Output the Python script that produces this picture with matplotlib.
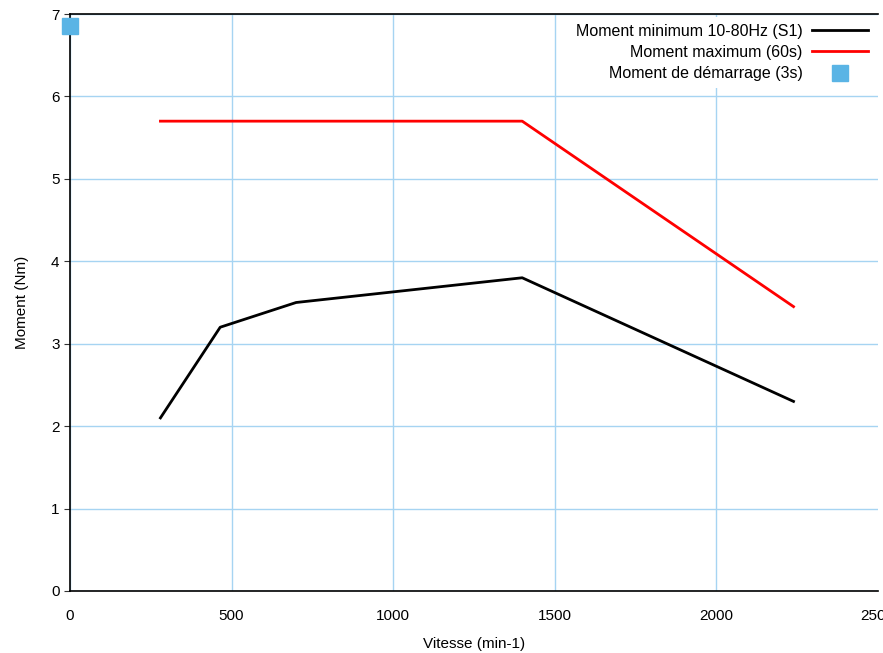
import matplotlib
matplotlib.use('Agg')
import matplotlib.pyplot as plt

# data
speed_min = [280, 465, 700, 1400, 2240]
torque_min = [2.1, 3.2, 3.5, 3.8, 2.3]
speed_max = [280, 1400, 2240]
torque_max = [5.7, 5.7, 3.45]
speed_start = [0]
torque_start = [6.85]

label_min = 'Moment minimum 10-80Hz (S1)'
label_max = 'Moment maximum (60s)'
label_start = 'Moment de démarrage (3s)'

plt.rcParams['font.family'] = ['Liberation Sans', 'DejaVu Sans']

fig = plt.figure(figsize=(8.83, 6.53), dpi=100)
ax = fig.add_axes([70 / 883, 62 / 653, 807.5 / 883, 577 / 653])

ax.plot(speed_min, torque_min, color='black', linewidth=2, label=label_min)
ax.plot(speed_max, torque_max, color='#ff0000', linewidth=2, label=label_max)
ax.plot(speed_start, torque_start, linestyle='none', marker='s', markersize=12,
        color='#5ab4e5', clip_on=False, zorder=5, label=label_start)

ax.set_xlim(0, 2500)
ax.set_ylim(0, 7)
ax.set_xticks([0, 500, 1000, 1500, 2000, 2500])
ax.set_yticks(range(0, 8))

ax.grid(True, color='#a6d4f2', linewidth=1)
ax.set_axisbelow(True)
# no gridline on the right edge
ax.get_xgridlines()[-1].set_visible(False)

ax.spines['right'].set_visible(False)
for side in ('left', 'bottom', 'top'):
    ax.spines[side].set_color('black')
    ax.spines[side].set_linewidth(1.2)

ax.tick_params(axis='both', labelsize=11, colors='#333333', length=4, labelcolor='black')
ax.tick_params(axis='x', pad=13, length=0)

ax.set_xlabel('Vitesse (min-1)', fontsize=11, labelpad=10)
ax.set_ylabel('Moment (Nm)', fontsize=11, labelpad=16)

leg = ax.legend(loc='upper right', frameon=True, markerfirst=False, fontsize=11.5,
                handlelength=3.5, handletextpad=0.6, borderaxespad=0.2,
                labelspacing=0.4)
leg.get_frame().set_facecolor('white')
leg.get_frame().set_edgecolor('none')
leg.get_frame().set_alpha(1)
for t in leg.get_texts():
    t.set_ha('right')
leg._legend_box.align = 'right'

fig.savefig('out.png', dpi=100)
